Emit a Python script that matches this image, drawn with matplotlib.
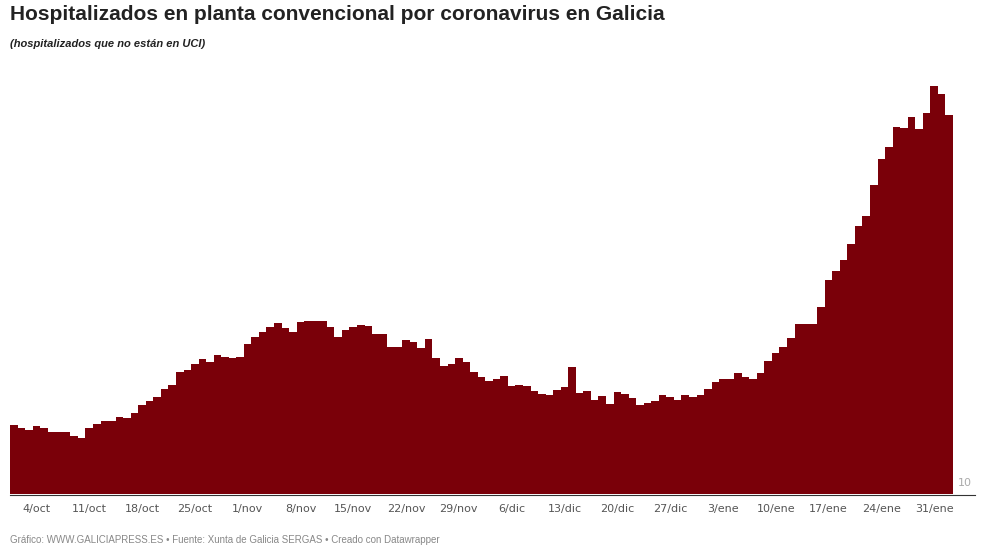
import numpy as np
import matplotlib
matplotlib.use("Agg")
import matplotlib.pyplot as plt

# hospitalizados en planta, un valor por día desde el 1/oct/2020
hospitalizados = [
    286, 273, 266, 282, 273, 257, 257, 257, 243, 235, 273, 290, 303, 303, 317, 313,
    335, 365, 383, 399, 431, 445, 498, 506, 530, 549, 538, 566, 559, 553, 557, 610,
    637, 657, 679, 693, 673, 657, 698, 703, 703, 703, 677, 639, 666, 679, 685, 682,
    649, 649, 597, 597, 626, 619, 593, 631, 553, 522, 530, 553, 537, 499, 477,
    463, 470, 482, 442, 445, 442, 423, 410, 406, 426, 437, 517, 415, 422, 386, 402,
    369, 419, 410, 393, 366, 373, 383, 406, 399, 386, 406, 397, 406, 429, 459, 469,
    469, 495, 479, 470, 495, 542, 575, 597, 633, 690, 690, 690,
    757, 866, 902, 946, 1010, 1082, 1122, 1246, 1349, 1397, 1479, 1473, 1519, 1469,
    1533, 1642, 1610, 1526,
]
tick_days = [3, 10, 17, 24, 31, 38, 45, 52, 59, 66, 73, 80, 87, 94, 101, 108, 115, 122]
tick_labels = ["4/oct", "11/oct", "18/oct", "25/oct", "1/nov", "8/nov", "15/nov", "22/nov",
               "29/nov", "6/dic", "13/dic", "20/dic", "27/dic", "3/ene", "10/ene",
               "17/ene", "24/ene", "31/ene"]

W, H = 981, 560
fig = plt.figure(figsize=(W / 100, H / 100), dpi=100)
ax = fig.add_axes([10 / W, 1 - 494 / H, (953 - 10) / W, (494 - 60) / H])

n = len(hospitalizados)
x = np.arange(n + 1)
y = hospitalizados + [hospitalizados[-1]]
ax.fill_between(x, 10, y, step="post", color="#7a0009", linewidth=0)
ax.set_xlim(0, n)
ax.set_ylim(10, 1746)
ax.set_xticks(np.array(tick_days) + 0.5)
ax.set_xticklabels(tick_labels, fontsize=8, color="#555555")
ax.tick_params(axis="x", length=0, pad=7)
ax.set_yticks([])
for s in ax.spines.values():
    s.set_visible(False)

# línea base y etiqueta del eje
fig.add_artist(plt.Line2D([10 / W, 975 / W], [1 - 494.5 / H] * 2, color="#333333", lw=0.8))
fig.text(972 / W, 1 - 483 / H, "10", fontsize=8, color="#aaaaaa", ha="right", va="center")

fig.text(10 / W, 1 - 14 / H, "Hospitalizados en planta convencional por coronavirus en Galicia",
         fontsize=15, fontweight="bold", color="#222222", va="center", family="Liberation Sans")
fig.text(10 / W, 1 - 44 / H, "(hospitalizados que no están en UCI)", fontsize=8,
         fontweight="bold", style="italic", color="#222222", va="center", family="Liberation Sans")
fig.text(10 / W, 1 - 540 / H,
         "Gráfico: WWW.GALICIAPRESS.ES • Fuente: Xunta de Galicia SERGAS • Creado con Datawrapper",
         fontsize=7, color="#888888", va="center", family="Liberation Sans")

fig.savefig("out.png", dpi=100)
